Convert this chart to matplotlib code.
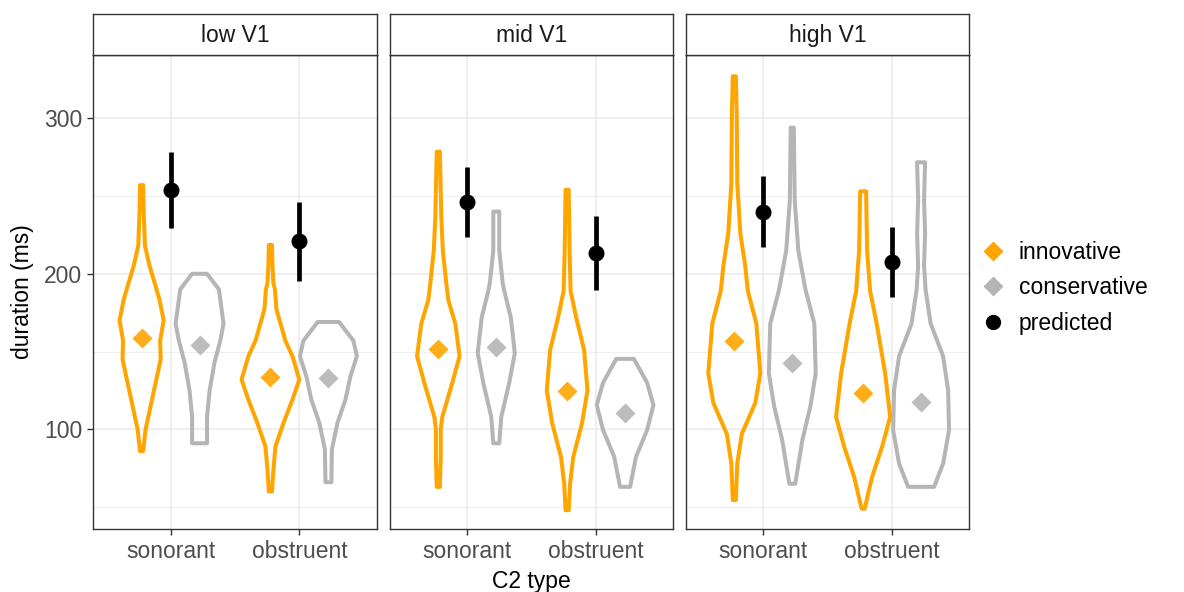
"""Violin plot of vowel duration by C2 type, faceted by V1 height."""
import numpy as np
import matplotlib
matplotlib.use("Agg")
import matplotlib.pyplot as plt
from matplotlib.lines import Line2D

plt.rcParams["font.family"] = ["Liberation Sans", "DejaVu Sans"]

facets = ["low V1", "mid V1", "high V1"]
c2_types = ["sonorant", "obstruent"]
groups = ["innovative", "conservative"]

# violin outlines: (duration, half width in x units)
violins = {
    ("low V1", "sonorant", "innovative"): [
        (257, 0.012), (240, 0.016), (218, 0.026), (205, 0.062), (190, 0.116),
        (183, 0.14), (170, 0.171), (157, 0.144), (145, 0.148), (130, 0.109),
        (115, 0.07), (100, 0.031), (86, 0.012)],
    ("low V1", "sonorant", "conservative"): [
        (200, 0.058), (190, 0.15), (168, 0.186), (157, 0.161), (143, 0.116),
        (125, 0.078), (108, 0.058), (91, 0.058)],
    ("low V1", "obstruent", "innovative"): [
        (218.5, 0.012), (205, 0.016), (194, 0.023), (190, 0.035), (177, 0.047),
        (157, 0.116), (147, 0.171), (132, 0.224), (119, 0.171), (104, 0.101),
        (89, 0.039), (74, 0.023), (60, 0.012)],
    ("low V1", "obstruent", "conservative"): [
        (169, 0.083), (157, 0.194), (147, 0.221), (134, 0.171), (119, 0.132),
        (104, 0.07), (87, 0.027), (66, 0.023)],
    ("mid V1", "sonorant", "innovative"): [
        (278.5, 0.012), (237, 0.023), (215, 0.035), (194, 0.062), (183, 0.078),
        (168, 0.132), (147, 0.165), (130, 0.109), (108, 0.031), (100, 0.019),
        (82, 0.019), (63, 0.012)],
    ("mid V1", "sonorant", "conservative"): [
        (240, 0.023), (215, 0.023), (194, 0.05), (189, 0.062), (172, 0.113),
        (149, 0.144), (130, 0.101), (108, 0.039), (91, 0.023)],
    ("mid V1", "obstruent", "innovative"): [
        (254, 0.012), (215, 0.019), (189, 0.027), (172, 0.07), (151, 0.132),
        (125, 0.158), (104, 0.116), (82, 0.047), (65, 0.023), (48, 0.012)],
    ("mid V1", "obstruent", "conservative"): [
        (145.3, 0.068), (130, 0.171), (115.6, 0.22), (99.5, 0.171),
        (82.4, 0.085), (63, 0.039)],
    ("high V1", "sonorant", "innovative"): [
        (327, 0.012), (301, 0.019), (258, 0.023), (226, 0.047), (205, 0.085),
        (189, 0.105), (168, 0.171), (136, 0.202), (117, 0.163), (97, 0.058),
        (78, 0.023), (54.5, 0.012)],
    ("high V1", "sonorant", "conservative"): [
        (294, 0.012), (247, 0.019), (215, 0.047), (194, 0.093), (189, 0.105),
        (168, 0.171), (136, 0.182), (114.5, 0.14), (93, 0.078), (65, 0.023)],
    ("high V1", "obstruent", "innovative"): [
        (253, 0.023), (215, 0.031), (189, 0.054), (168, 0.105), (136, 0.171),
        (108, 0.21), (89, 0.148), (69.5, 0.07), (49, 0.012)],
    ("high V1", "obstruent", "conservative"): [
        (271.7, 0.031), (247, 0.023), (226, 0.031), (205, 0.023), (189.6, 0.035),
        (168, 0.074), (147, 0.171), (125, 0.21), (99.5, 0.217), (78, 0.171),
        (63, 0.101)],
}

# observed means (diamonds), per facet: [son inn, son con, obs inn, obs con]
means = {
    "low V1": [158.5, 154.2, 133.4, 132.8],
    "mid V1": [151.5, 152.7, 124.8, 110.3],
    "high V1": [157.0, 142.4, 123.2, 117.7],
}

# model predictions: estimate, lower, upper for sonorant / obstruent
pred_est = {"low V1": [253.9, 221.3], "mid V1": [246.4, 213.6], "high V1": [240.0, 207.8]}
pred_lo = {"low V1": [229.3, 195.6], "mid V1": [223.5, 189.6], "high V1": [217.4, 185.0]}
pred_hi = {"low V1": [278.5, 246.4], "mid V1": [268.9, 237.4], "high V1": [262.9, 230.3]}

colors = {"innovative": "#FFA500", "conservative": "#B5B5B5"}
dodge = {"innovative": -0.225, "conservative": 0.225}

W, H = 1184, 592
FS = 16.5
fig = plt.figure(figsize=(W / 100, H / 100), dpi=100)

lefts = [93.3, 390.0, 686.0]
pw = 283.4
ptop, pbot = 55.0, 529.3
strip_top = 14.0

axes = []
for k, facet in enumerate(facets):
    ax = fig.add_axes([lefts[k] / W, 1 - pbot / H, pw / W, (pbot - ptop) / H])
    axes.append(ax)
    ax.set_xlim(0.4, 2.6)
    ax.set_ylim(35.7, 340.7)

    # grid
    for v in [100, 200, 300]:
        ax.axhline(v, color="#EBEBEB", lw=1.1, zorder=0)
    for v in [50, 150, 250]:
        ax.axhline(v, color="#EBEBEB", lw=0.6, zorder=0)
    for xi in [1, 2]:
        ax.axvline(xi, color="#EBEBEB", lw=1.1, zorder=0)

    for i, c2 in enumerate(c2_types):
        x0 = i + 1
        for g in groups:
            prof = np.array(violins[(facet, c2, g)])
            yy, hw = prof[:, 0], prof[:, 1]
            cx = x0 + dodge[g]
            xs = np.concatenate([cx + hw, (cx - hw)[::-1]])
            ys = np.concatenate([yy, yy[::-1]])
            ax.fill(xs, ys, facecolor="none", edgecolor=colors[g], lw=2.9,
                    joinstyle="round", zorder=2)
            gi = 2 * i + groups.index(g)
            ax.plot(cx, means[facet][gi], marker="D", ms=10.5, color=colors[g],
                    mec="none", zorder=3, alpha=0.9)
        ax.plot([x0, x0], [pred_lo[facet][i], pred_hi[facet][i]], color="black",
                lw=3.4, solid_capstyle="butt", zorder=4)
        ax.plot(x0, pred_est[facet][i], "o", color="black", ms=10.5, zorder=5)

    ax.set_xticks([1, 2], c2_types)
    ax.set_yticks([100, 200, 300])
    ax.tick_params(axis="both", length=4.5, width=1, color="#333333",
                   labelsize=FS, labelcolor="#4D4D4D", pad=3.5)
    if k > 0:
        ax.tick_params(axis="y", length=0, labelleft=False)
    for s in ax.spines.values():
        s.set_color("#333333")
        s.set_linewidth(1)

    # facet strip
    sax = fig.add_axes([lefts[k] / W, 1 - ptop / H, pw / W, (ptop - strip_top) / H])
    sax.set_xticks([])
    sax.set_yticks([])
    sax.set_facecolor("white")
    for s in sax.spines.values():
        s.set_color("#333333")
        s.set_linewidth(1)
    sax.text(0.5, 0.47, facet, ha="center", va="center", fontsize=FS,
             color="#1A1A1A", transform=sax.transAxes)

fig.text(22 / W, 1 - 292 / H, "duration (ms)", rotation=90, ha="center",
         va="center", fontsize=FS)
fig.text(531.3 / W, 1 - 588 / H, "C2 type", ha="center", va="baseline",
         fontsize=FS)

handles = [
    Line2D([], [], marker="D", ls="none", color=colors["innovative"], mec="none", ms=10.5),
    Line2D([], [], marker="D", ls="none", color=colors["conservative"], mec="none", ms=10.5),
    Line2D([], [], marker="o", ls="none", color="black", ms=10),
]
fig.legend(handles, ["innovative", "conservative", "predicted"], loc="center left",
           bbox_to_anchor=(0.819, 0.514), frameon=False, fontsize=FS,
           handlelength=1.0, handletextpad=0.65, labelspacing=0.55, borderpad=0)

fig.savefig("out.png", dpi=100)
